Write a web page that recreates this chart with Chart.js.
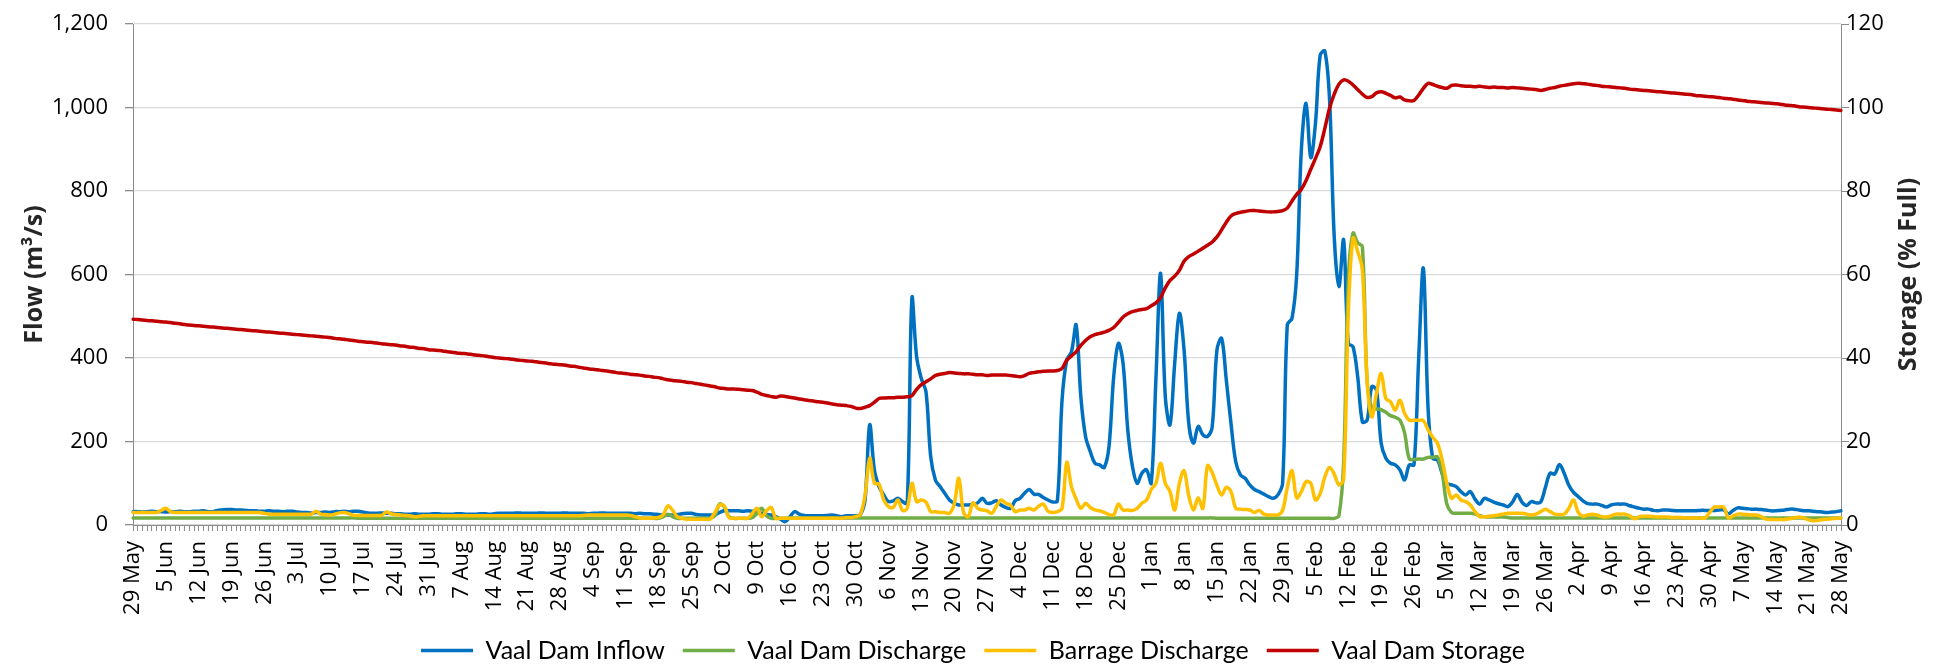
<!DOCTYPE html>
<html><head><meta charset="utf-8">
<script src="https://cdn.jsdelivr.net/npm/chart.js@4.4.1/dist/chart.umd.min.js"></script>
<style>html,body{margin:0;padding:0;background:#fff}#wrap{width:1946px;height:664px;position:relative}</style>
</head><body><div id="wrap"><canvas id="c" width="1946" height="664"></canvas></div>
<script>
const weekLabels = ['29 May','5 Jun','12 Jun','19 Jun','26 Jun','3 Jul','10 Jul','17 Jul','24 Jul','31 Jul','7 Aug','14 Aug','21 Aug','28 Aug','4 Sep','11 Sep','18 Sep','25 Sep','2 Oct','9 Oct','16 Oct','23 Oct','30 Oct','6 Nov','13 Nov','20 Nov','27 Nov','4 Dec','11 Dec','18 Dec','25 Dec','1 Jan','8 Jan','15 Jan','22 Jan','29 Jan','5 Feb','12 Feb','19 Feb','26 Feb','5 Mar','12 Mar','19 Mar','26 Mar','2 Apr','9 Apr','16 Apr','23 Apr','30 Apr','7 May','14 May','21 May','28 May'];

const seriesNames = ['Vaal Dam Inflow','Vaal Dam Discharge','Barrage Discharge','Vaal Dam Storage'];
const flowTitle = 'Flow (m\u00B3/s)';
const storageTitle = 'Storage (% Full)';
const flowTicks = {min:0, max:1200, step:200};
const storageTicks = {min:0, max:120, step:20};

// daily values, one row per week (29 May .. 28 May)
const inflow = [
32,32,31,32,33,32,32,
31,32,32,33,32,32,33,
33,34,32,32,35,36,37,
37,36,36,35,34,34,33,
33,34,33,33,32,33,33,
31,30,30,29,30,30,31,
30,32,32,33,32,33,33,
31,29,28,28,29,28,28,
27,27,26,26,27,26,26,
26,27,27,26,26,26,27,
27,26,26,26,27,27,26,
27,28,28,28,28,29,28,
28,28,28,29,28,28,28,
28,29,28,28,28,28,27,
28,28,29,28,28,28,28,
28,28,27,28,27,27,26,
25,24,24,24,25,27,28,
28,25,24,24,24,24,30,
34,34,34,34,33,34,33,
29,28,25,24,20,14,8,
20,32,26,23,22,22,22,
22,23,24,22,20,22,22,
22,25,60,240,132,92,72,
56,58,64,56,52,543,403,
351,319,164,108,92,76,60,
52,48,48,48,50,53,64,
52,53,58,48,42,40,58,
64,76,85,74,73,66,60,
55,58,300,395,415,479,307,
212,176,148,144,138,188,355,
435,387,228,140,100,124,132,
100,350,603,307,240,387,507,
419,243,196,236,216,212,236,
419,447,347,243,152,120,112,
96,85,80,74,68,64,72,
100,480,495,600,900,1010,880,
962,1125,1135,1020,690,571,683,
435,427,355,247,251,331,323,
196,160,148,144,132,108,144,
144,400,615,280,160,156,124,
100,96,92,80,72,80,62,
50,64,60,55,51,48,44,
55,73,55,47,56,53,55,
90,124,122,145,124,95,78,
68,58,51,50,50,47,43,
48,50,50,50,46,43,40,
38,38,35,34,36,36,35,
34,34,34,34,34,35,35,
35,35,36,36,27,35,41,
40,39,38,38,37,36,34,
34,35,36,38,38,36,34,
34,33,32,31,30,31,32,
34];

const damDischarge = [
17,17,17,17,17,17,17,
17,17,17,17,17,17,17,
17,17,17,17,17,17,17,
17,17,17,17,17,17,17,
17,17,17,17,17,17,17,
17,17,17,17,17,17,17,
17,17,17,17,17,17,16,
16,16,16,16,16,16,16,
16,16,16,16,16,16,16,
16,16,16,16,16,16,16,
16,16,16,16,16,16,16,
16,16,16,16,16,16,16,
16,16,16,16,16,16,16,
16,16,16,16,16,16,16,
16,16,16,16,16,16,16,
16,16,16,16,16,16,16,
16,20,26,20,16,16,16,
16,16,16,16,16,22,50,
44,20,16,16,16,16,18,
28,40,22,16,16,16,16,
17,17,17,17,17,17,17,
17,17,17,17,17,17,17,
17,17,17,17,17,17,17,
17,17,17,17,17,17,17,
17,17,17,17,17,17,17,
17,17,17,17,17,17,17,
17,17,17,17,17,17,17,
17,17,17,17,17,17,17,
17,17,17,17,17,17,17,
17,17,17,17,17,17,17,
17,17,17,17,17,17,17,
17,17,17,17,17,17,17,
17,17,17,17,17,17,17,
16,16,16,16,16,16,16,
16,16,16,16,16,16,16,
16,16,16,16,16,16,16,
16,16,16,16,16,22,148,
587,699,676,667,347,279,278,
276,270,262,258,251,220,158,
157,158,158,162,162,163,125,
50,30,28,28,28,28,26,
22,20,19,19,19,19,18,
17,17,17,17,17,17,17,
17,17,17,17,17,17,17,
17,17,17,17,17,17,17,
17,17,17,17,17,17,17,
17,17,17,17,17,17,17,
17,17,17,17,17,17,17,
17,17,17,17,17,17,17,
17,17,17,17,17,17,17,
17,17,17,17,17,17,17,
17,17,17,17,17,17,17,
17];

const barrageDischarge = [
30,30,30,30,30,30,35,
40,32,30,30,30,30,30,
30,30,30,30,30,30,30,
30,30,30,30,30,30,30,
28,26,26,26,26,26,26,
26,26,26,26,33,26,25,
24,26,29,30,27,23,23,
23,23,23,23,23,31,27,
25,24,23,22,20,21,22,
22,22,22,22,22,22,22,
22,22,22,22,22,22,22,
22,22,22,22,22,22,22,
22,22,22,22,22,22,22,
22,22,22,22,22,23,24,
24,24,24,24,24,24,24,
24,23,20,17,16,16,17,
18,25,46,35,20,16,14,
14,14,14,14,14,30,48,
46,18,16,16,16,16,28,
40,20,34,42,16,16,16,
16,16,16,16,16,16,16,
16,16,16,16,16,18,18,
20,25,70,160,100,98,60,
44,42,60,35,40,100,56,
60,55,32,32,30,30,28,
50,112,30,20,53,40,36,
34,28,45,60,52,48,32,
36,36,40,36,45,50,33,
30,32,40,150,92,62,40,
52,42,36,34,30,25,24,
50,36,36,35,40,52,60,
85,100,148,100,80,36,100,
130,70,36,65,40,142,125,
95,72,90,80,40,38,37,
36,30,35,26,24,24,24,
35,90,130,65,80,104,100,
60,75,115,138,122,96,110,
507,687,655,611,347,259,315,
363,303,295,275,299,267,251,
251,251,250,228,210,196,156,
100,64,72,60,56,48,32,
20,20,21,22,24,26,28,
28,28,28,26,24,26,32,
38,32,26,25,26,40,60,
30,21,24,26,24,20,19,
22,26,26,26,22,15,20,
21,21,20,19,19,19,18,
18,18,17,17,17,17,17,
30,43,43,43,17,22,26,
26,25,24,24,20,14,13,
13,13,13,15,17,19,17,
13,10,11,13,14,15,16,
17];

const storage = [
49.3,49.2,49.1,49.0,48.9,48.8,48.7,
48.6,48.5,48.3,48.2,48.0,47.9,47.8,
47.7,47.6,47.5,47.4,47.3,47.2,47.1,
47.0,46.9,46.8,46.7,46.6,46.5,46.4,
46.3,46.2,46.1,46.0,45.9,45.8,45.7,
45.6,45.5,45.4,45.3,45.2,45.1,45.0,
44.9,44.7,44.6,44.5,44.3,44.2,44.0,
43.9,43.8,43.7,43.6,43.4,43.3,43.2,
43.1,42.9,42.8,42.6,42.5,42.3,42.2,
42.0,41.9,41.8,41.7,41.5,41.4,41.2,
41.1,41.0,40.9,40.7,40.6,40.5,40.3,
40.1,40.0,39.9,39.8,39.7,39.5,39.4,
39.3,39.2,39.1,38.9,38.8,38.6,38.5,
38.4,38.3,38.1,38.0,37.8,37.6,37.4,
37.3,37.2,37.0,36.9,36.7,36.5,36.4,
36.3,36.1,36.0,35.9,35.7,35.6,35.4,
35.3,35.0,34.8,34.6,34.5,34.4,34.2,
34.1,33.9,33.7,33.5,33.3,33.1,32.8,
32.7,32.6,32.6,32.5,32.4,32.3,32.2,
31.8,31.3,31.0,30.8,30.6,30.9,30.8,
30.6,30.4,30.2,30.0,29.8,29.7,29.5,
29.4,29.2,29.0,28.8,28.7,28.6,28.4,
28.0,27.9,28.2,28.6,29.4,30.3,30.4,
30.5,30.5,30.6,30.6,30.7,31.0,32.5,
33.6,34.3,35.0,35.8,36.1,36.3,36.5,
36.4,36.3,36.2,36.2,36.1,36.0,36.0,
35.8,35.9,35.9,35.9,35.9,35.8,35.7,
35.5,35.8,36.3,36.5,36.7,36.8,36.9,
36.9,37.0,37.5,39.5,40.5,41.5,43.0,
44.2,45.1,45.6,45.9,46.2,46.6,47.3,
48.5,49.8,50.6,51.1,51.4,51.6,51.8,
52.5,53.2,54.5,56.8,58.6,59.6,61.0,
63.2,64.3,64.9,65.6,66.3,67.0,67.8,
69.0,70.7,72.5,74.0,74.6,74.9,75.1,
75.3,75.3,75.2,75.1,75.0,75.0,75.1,
75.3,75.9,77.6,79.2,80.4,82.5,85.2,
87.8,90.6,95.0,99.8,103.2,105.6,106.6,
106.3,105.4,104.3,103.2,102.4,102.6,103.5,
103.8,103.4,102.9,102.3,102.5,101.8,101.6,
101.7,103.0,104.6,105.8,105.5,105.1,104.8,
104.6,105.3,105.4,105.2,105.1,105.1,105.0,
105.1,104.9,104.8,104.9,104.8,104.8,104.7,
104.8,104.7,104.6,104.5,104.4,104.3,104.1,
104.3,104.6,104.8,105.1,105.3,105.5,105.7,
105.8,105.7,105.6,105.4,105.3,105.1,105.0,
104.9,104.8,104.7,104.6,104.4,104.3,104.2,
104.1,104.0,103.9,103.8,103.7,103.6,103.5,
103.4,103.3,103.2,103.1,102.9,102.8,102.7,
102.6,102.5,102.4,102.2,102.1,102.0,101.8,
101.7,101.5,101.4,101.3,101.2,101.1,101.0,
100.9,100.8,100.6,100.5,100.4,100.2,100.1,
100.0,99.9,99.8,99.7,99.6,99.5,99.4,
99.3];

// category axis: one slot per day, label every 7th day
const categories = inflow.map((v, i) => (i % 7 === 0 ? weekLabels[i / 7] : ''));

const AXIS = '#8c8c8c', GRID = '#d9d9d9', TXT = '#000000', TITLE = '#262626';
const tickFont = {family: '"Open Sans", sans-serif', size: 22};
const titleFont = {family: '"Open Sans", sans-serif', size: 25, weight: 'bold'};
const PAD_BOTTOM = -9;

const rightTitlePlugin = {
  id: 'rightTitle',
  afterDraw(chart) {
    const s = chart.scales.y2, a = chart.chartArea, ctx = chart.ctx;
    ctx.save();
    ctx.translate(s.right - 37, (a.top + a.bottom) / 2);
    ctx.rotate(-Math.PI / 2);
    ctx.font = 'bold 25px "Open Sans", sans-serif';
    ctx.fillStyle = TITLE;
    ctx.textAlign = 'center';
    ctx.textBaseline = 'middle';
    ctx.fillText(storageTitle, 0, 0);
    ctx.restore();
  }
};

const mk = (label, data, color, axis, order) => ({
  label, data, borderColor: color, backgroundColor: color, yAxisID: axis, order,
  borderWidth: 3.5, pointRadius: 0, tension: 0.35, fill: false, borderCapStyle: 'round', borderJoinStyle: 'round'
});

const fitY = (w) => (s) => { s.width = w; s.paddingTop = 0; s.paddingBottom = 0; };

new Chart(document.getElementById('c'), {
  type: 'line',
  data: {
    labels: categories,
    datasets: [
      mk(seriesNames[0], inflow, '#0070C0', 'y', 3),
      mk(seriesNames[1], damDischarge, '#70AD47', 'y', 2),
      mk(seriesNames[2], barrageDischarge, '#FFC000', 'y', 1),
      mk(seriesNames[3], storage, '#C00000', 'y2', 0)
    ]
  },
  options: {
    responsive: false, animation: false, devicePixelRatio: 1, locale: 'en-US',
    layout: {padding: {top: 24, right: 0, bottom: PAD_BOTTOM, left: 0}},
    plugins: {
      tooltip: {enabled: false},
      legend: {
        position: 'bottom', align: 'center',
        labels: {
          usePointStyle: true, pointStyle: 'line', pointStyleWidth: 52, boxHeight: 20,
          padding: 18, color: TXT,
          font: {family: 'Lato, sans-serif', size: 25},
          sort: (a, b) => a.datasetIndex - b.datasetIndex
        }
      }
    },
    scales: {
      x: {
        type: 'category', offset: false,
        grid: {display: true, drawOnChartArea: false, drawTicks: true, tickLength: 6, tickColor: AXIS, offset: false},
        border: {display: true, color: AXIS, width: 1},
        ticks: {autoSkip: false, maxRotation: 90, minRotation: 90, padding: 10, color: TXT, font: tickFont},
        afterFit: (s) => { s.height = 664 - 525 - s.chart.legend.height - PAD_BOTTOM; }
      },
      y: {
        position: 'left', min: flowTicks.min, max: flowTicks.max,
        ticks: {stepSize: flowTicks.step, padding: 17, color: TXT, font: tickFont},
        grid: {color: GRID, lineWidth: 1.3, tickLength: 8, tickColor: AXIS},
        border: {display: true, color: AXIS, width: 1},
        title: {display: true, text: flowTitle, color: TITLE, font: titleFont, padding: {top: 20, bottom: 0}},
        afterFit: fitY(133)
      },
      y2: {
        position: 'right', min: storageTicks.min, max: storageTicks.max,
        ticks: {stepSize: storageTicks.step, padding: -3, color: TXT, font: tickFont},
        grid: {drawOnChartArea: false, tickLength: 8, tickColor: AXIS},
        border: {display: true, color: AXIS, width: 1},
        afterFit: fitY(105)
      }
    }
  },
  plugins: [rightTitlePlugin]
});
</script>
</body></html>
